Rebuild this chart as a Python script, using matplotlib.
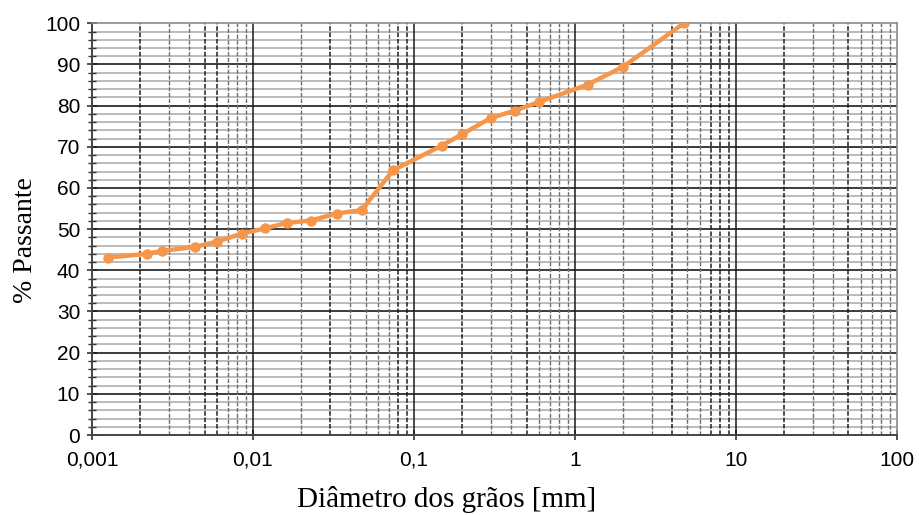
import numpy as np
import matplotlib
matplotlib.use("Agg")
import matplotlib.pyplot as plt
from matplotlib.ticker import FixedLocator, FixedFormatter, NullFormatter

# === Data ===
diametro_mm = [0.00126, 0.00219, 0.00271, 0.00436, 0.00602, 0.00851, 0.0119,
               0.0162, 0.0229, 0.0331, 0.0473, 0.0741, 0.149, 0.2, 0.3,
               0.425, 0.6, 1.2, 2.0, 4.75]
passante = [43.1, 44.0, 44.7, 45.7, 47.0, 48.9, 50.2, 51.5, 52.1, 53.8,
            54.6, 64.3, 70.3, 73.1, 77.0, 78.8, 80.9, 85.1, 89.5, 100.0]

x_ticks = [0.001, 0.01, 0.1, 1, 10, 100]
x_tick_labels = ["0,001", "0,01", "0,1", "1", "10", "100"]
y_ticks = [0, 10, 20, 30, 40, 50, 60, 70, 80, 90, 100]

# === Figure ===
fig = plt.figure(figsize=(9.19, 5.15), dpi=100)
ax = fig.add_axes([0.1001, 0.1553, 0.8759, 0.7995])
ax.set_xscale("log")
ax.set_xlim(0.001, 100)
ax.set_ylim(0, 100)

# horizontal grid: light every 2 %, dark every 10 %
for yv in range(2, 100, 2):
    if yv % 10:
        ax.axhline(yv, color="#bbbbbb", lw=1.4, zorder=1)
for yv in y_ticks[1:-1]:
    ax.axhline(yv, color="#1a1a1a", lw=1.2, zorder=2)

# vertical grid: decades solid, minors dashed (some rendered darker)
dark_minors = {(-3, 2), (-3, 5), (-3, 6), (-2, 3), (-2, 8), (-2, 9),
               (-1, 2), (-1, 5), (0, 4), (0, 7), (0, 8), (0, 9), (1, 2), (1, 5)}
for dec in range(-3, 2):
    for m in range(2, 10):
        xv = m * 10.0 ** dec
        if (dec, m) in dark_minors:
            ax.axvline(xv, color="#1e1e1e", lw=1.1, ls=(0, (3, 1.2)), zorder=2)
        else:
            ax.axvline(xv, color="#6e6e6e", lw=1.0, ls=(0, (3, 1.2)), zorder=2)
for xv in x_ticks[1:-1]:
    ax.axvline(xv, color="#1a1a1a", lw=1.1, zorder=2)

# curve
ax.plot(diametro_mm, passante, color="#F5964A", lw=3.2, marker="o",
        markersize=6.5, zorder=5, solid_capstyle="round")

# ticks
ax.xaxis.set_major_locator(FixedLocator(x_ticks))
ax.xaxis.set_major_formatter(FixedFormatter(x_tick_labels))
ax.xaxis.set_minor_locator(FixedLocator([]))
ax.xaxis.set_minor_formatter(NullFormatter())
ax.set_yticks(y_ticks)
ax.set_yticks(np.arange(2, 100, 2), minor=True)
ax.tick_params(axis="both", which="major", direction="inout", length=7,
               width=1.2, color="#333333", labelsize=15, pad=5)
ax.tick_params(axis="x", which="major", pad=8)
ax.tick_params(axis="y", which="minor", direction="inout", length=6,
               width=1.0, color="#333333")
for lab in ax.get_xticklabels() + ax.get_yticklabels():
    lab.set_fontfamily("Liberation Sans")

for side in ["top", "right"]:
    ax.spines[side].set_color("#8a8a8a")
    ax.spines[side].set_linewidth(1.2)
for side in ["left", "bottom"]:
    ax.spines[side].set_color("#444444")
    ax.spines[side].set_linewidth(1.4)

ax.set_xlabel("Diâmetro dos grãos [mm]", fontfamily="Liberation Serif",
              fontsize=21)
ax.set_ylabel("% Passante", fontfamily="Liberation Serif", fontsize=20)
ax.xaxis.set_label_coords(0.44, -0.125)
ax.yaxis.set_label_coords(-0.067, 0.473)

fig.savefig("out.png", dpi=100)
